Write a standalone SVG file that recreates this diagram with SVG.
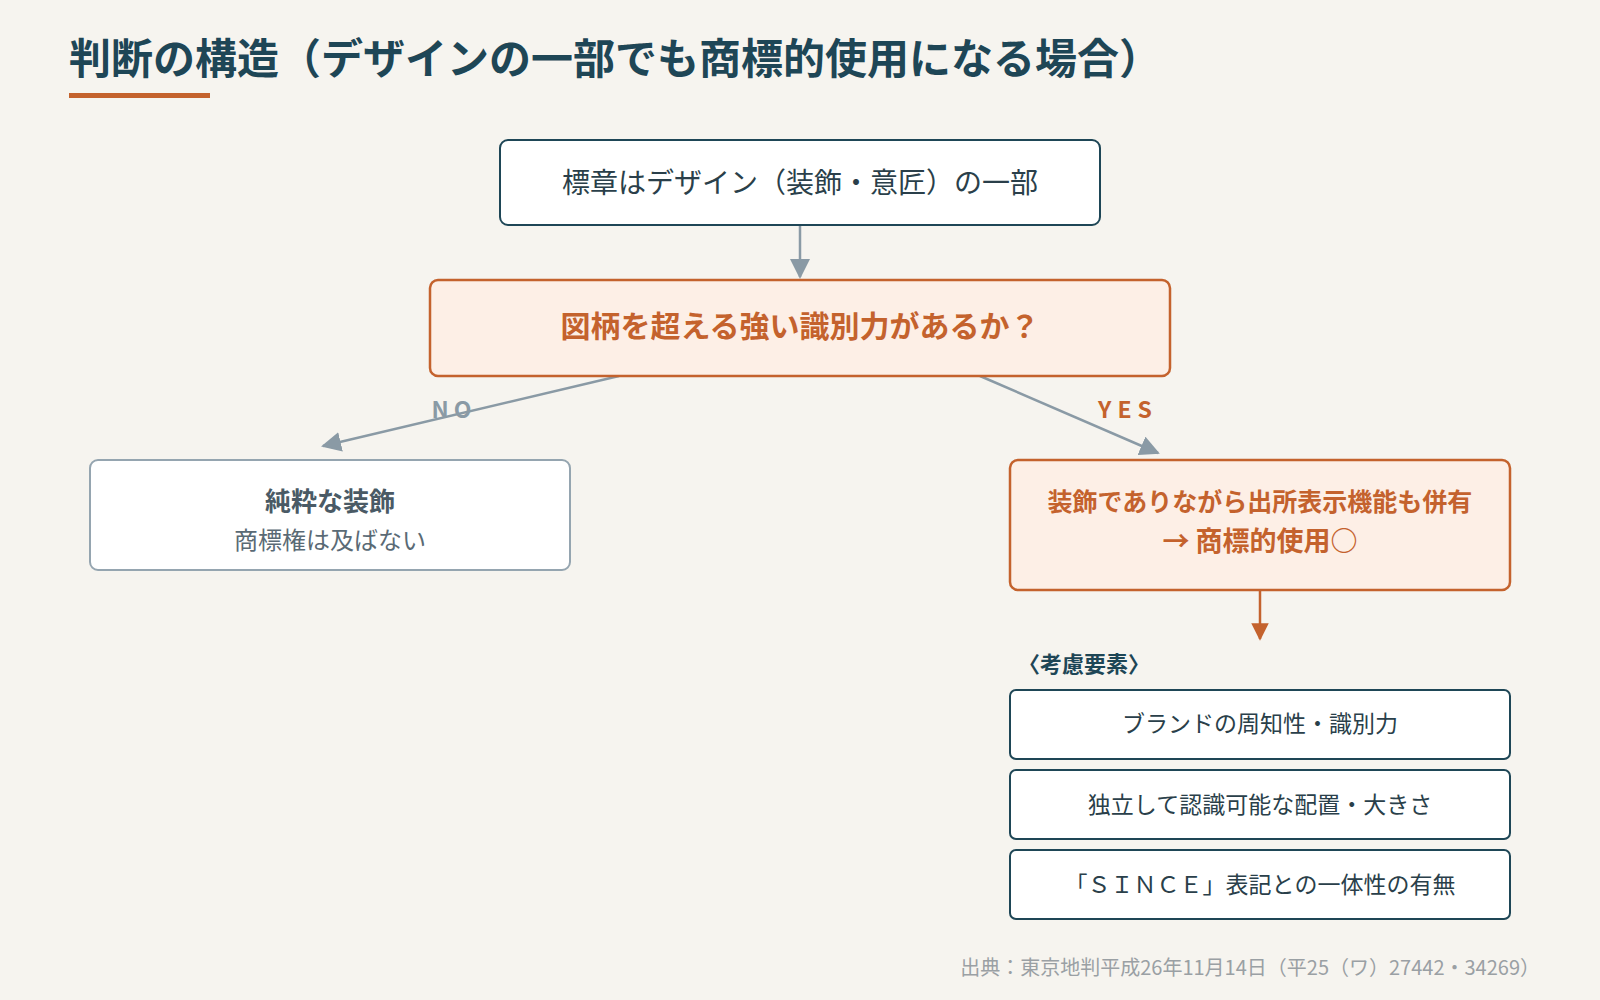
<svg xmlns="http://www.w3.org/2000/svg" width="1600" height="1000" viewBox="0 0 1600 1000">
<defs>
<marker id="ag" viewBox="0 0 10 10" refX="9" refY="5" markerWidth="8" markerHeight="8" orient="auto"><path d="M0,0 L10,5 L0,10 z" fill="#8a9aa5"/></marker>
<marker id="ao" viewBox="0 0 10 10" refX="9" refY="5" markerWidth="7" markerHeight="7" orient="auto"><path d="M0,0 L10,5 L0,10 z" fill="#c4622d"/></marker>
</defs>
<style>
text{font-family:"Noto Sans CJK JP","Noto Sans",sans-serif;text-anchor:middle;dominant-baseline:central}
.w{fill:#fff;stroke:#1e4656;stroke-width:2}
.g{fill:#fff;stroke:#95a5b0;stroke-width:2}
.o{fill:#fdefe6;stroke:#c4622d;stroke-width:2.5}
.dk{fill:#2a3f4a}
.or{fill:#c4622d;font-weight:bold}
</style>
<rect width="1600" height="1000" fill="#f6f4ef"/>
<text x="69" y="55" style="text-anchor:start;font-size:42px;font-weight:bold;fill:#1e4656">判断の構造（デザインの一部でも商標的使用になる場合）</text>
<rect x="69" y="93" width="141" height="5" fill="#c4622d"/>
<g id="connectors" fill="none" stroke-width="2.5">
<line x1="800" y1="226" x2="800" y2="277" stroke="#8a9aa5" marker-end="url(#ag)"/>
<line x1="619" y1="376" x2="323" y2="446" stroke="#8a9aa5" marker-end="url(#ag)"/>
<line x1="980" y1="376" x2="1158" y2="453" stroke="#8a9aa5" marker-end="url(#ag)"/>
<line x1="1260" y1="591" x2="1260" y2="639" stroke="#c4622d" marker-end="url(#ao)"/>
<text x="454" y="408" style="font-size:23px;font-weight:bold;fill:#8a9aa5;letter-spacing:5px">NO</text>
<text x="1128" y="408" style="font-size:23px;font-weight:bold;fill:#c4622d;letter-spacing:6px">YES</text>
</g>
<g id="n1"><rect class="w" x="500" y="140" width="600" height="85" rx="8"/><text class="dk" x="800" y="181" font-size="28">標章はデザイン（装飾・意匠）の一部</text></g>
<g id="n2"><rect class="o" x="430" y="280" width="740" height="96" rx="8"/><text class="or" x="800" y="324" font-size="30">図柄を超える強い識別力があるか？</text></g>
<g id="n3"><rect class="g" x="90" y="460" width="480" height="110" rx="8"/><text x="330" y="499" style="font-size:26px;font-weight:bold;fill:#4a5a65">純粋な装飾</text><text x="330" y="538" style="font-size:24px;fill:#5a6a75">商標権は及ばない</text></g>
<g id="n4"><rect class="o" x="1010" y="460" width="500" height="130" rx="8"/><text class="or" x="1260" y="500" font-size="25">装飾でありながら出所表示機能も併有</text><text class="or" x="1260" y="539" font-size="27">→ 商標的使用○</text></g>
<text x="1018" y="662" style="text-anchor:start;font-size:22px;font-weight:bold;fill:#1e4656">〈考慮要素〉</text>
<g id="f1"><rect class="w" x="1010" y="690" width="500" height="69" rx="6"/><text class="dk" x="1260" y="722" font-size="23">ブランドの周知性・識別力</text></g>
<g id="f2"><rect class="w" x="1010" y="770" width="500" height="69" rx="6"/><text class="dk" x="1260" y="803" font-size="23">独立して認識可能な配置・大きさ</text></g>
<g id="f3"><rect class="w" x="1010" y="850" width="500" height="69" rx="6"/><text class="dk" x="1260" y="883" font-size="23">「ＳＩＮＣＥ」表記との一体性の有無</text></g>
<text x="1540" y="966" style="text-anchor:end;font-size:20px;fill:#9aa0a4">出典：東京地判平成26年11月14日（平25（ワ）27442・34269）</text>
</svg>
